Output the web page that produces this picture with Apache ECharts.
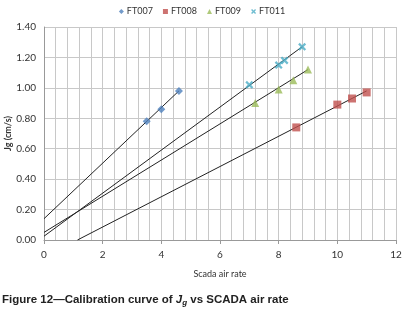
<!DOCTYPE html>
<html>
<head>
	<meta charset="utf-8"/>
	<script src="https://cdn.jsdelivr.net/npm/echarts@6/dist/echarts.min.js"></script>
	<style>
		html, body {
			margin: 0;
			padding: 0;
			background: #fff;
		}
		#chart {
			width: 404px;
			height: 311px;
		}
	</style>
	<title>Calibration curve</title>
</head>
<body>
	<div id="chart"></div>
	<script>
		// measured points (scada air rate, Jg)
		const ft007 = [[3.5, 0.78], [4.0, 0.86], [4.6, 0.98]];
		const ft008 = [[8.6, 0.74], [10.0, 0.89], [10.5, 0.93], [11.0, 0.97]];
		const ft009 = [[7.2, 0.90], [8.0, 0.99], [8.5, 1.05], [9.0, 1.12]];
		const ft011 = [[7.0, 1.02], [8.0, 1.15], [8.2, 1.18], [8.8, 1.27]];
		// trend lines, end points
		const trend007 = [[0, 0.14], [4.6, 0.98]];
		const trend008 = [[1.14, 0], [11.0, 0.98]];
		const trend009 = [[0, 0.05], [9.0, 1.12]];
		const trend011 = [[0, 0.025], [8.8, 1.27]];
		const seriesNames = ['FT007', 'FT008', 'FT009', 'FT011'];
		const colors = ['#4f81bd', '#c0504d', '#9bbb59', '#4bacc6'];

		const xMark = 'path://M2,0L5,3L8,0L10,2L7,5L10,8L8,10L5,7L2,10L0,8L3,5L0,2Z';
		const symbols = ['diamond', 'rect', 'triangle', xMark];
		const points = [ft007, ft008, ft009, ft011];
		const trends = [trend007, trend008, trend009, trend011];

		const chartFont = 'Lato, "Open Sans", sans-serif';
		const captionFont = '"Liberation Sans", Arial, sans-serif';
		const chart = echarts.init(document.getElementById('chart'));

		let series = [];
		trends.forEach(function (t) {
			series.push({
				type: 'line',
				data: t,
				symbol: 'none',
				silent: true,
				lineStyle: {color: '#222', width: 1},
				z: 2
			});
		});
		points.forEach(function (p, i) {
			series.push({
				name: seriesNames[i],
				type: 'scatter',
				data: p,
				symbol: symbols[i],
				symbolSize: 8,
				itemStyle: {color: colors[i]},
				z: 3
			});
		});

		chart.setOption({
			animation: false,
			color: colors,
			textStyle: {fontFamily: chartFont},
			legend: {
				data: seriesNames.map(function (n, i) {
					return {name: n, icon: symbols[i]};
				}),
				top: 2,
				left: 'center',
				itemWidth: 5,
				itemHeight: 5,
				itemGap: 10,
				textStyle: {fontSize: 9, color: '#333', fontFamily: chartFont, padding: [0, 0, 0, -2]}
			},
			grid: {left: 44, right: 8, top: 27, bottom: 71, outerBoundsMode: 'none'},
			xAxis: {
				type: 'value',
				min: 0,
				max: 12,
				interval: 2,
				name: 'Scada air rate',
				nameLocation: 'middle',
				nameGap: 30,
				nameMoveOverlap: false,
				nameTextStyle: {fontSize: 9, color: '#333'},
				axisLine: {lineStyle: {color: '#999'}},
				axisTick: {show: true, length: 4, lineStyle: {color: '#999'}},
				axisLabel: {fontSize: 10, color: '#333', margin: 10},
				splitLine: {show: true, lineStyle: {color: '#c8c8c8'}},
				minorTick: {show: false, splitNumber: 5},
				minorSplitLine: {show: true, lineStyle: {color: '#c8c8c8'}}
			},
			yAxis: {
				type: 'value',
				min: 0,
				max: 1.4,
				interval: 0.2,
				name: 'Jg (cm/s)',
				nameLocation: 'middle',
				nameGap: 31,
				nameMoveOverlap: false,
				nameTextStyle: {fontSize: 9, color: '#333', fontWeight: 'bold'},
				axisLine: {show: true, lineStyle: {color: '#999'}},
				axisTick: {show: false},
				axisLabel: {
					fontSize: 10,
					color: '#333',
					margin: 8,
					formatter: function (v) { return v.toFixed(2); }
				},
				splitLine: {show: true, lineStyle: {color: '#c8c8c8'}}
			},
			graphic: [{
				type: 'text',
				left: 2,
				top: 294,
				style: {
					text: '{n|Figure 12—Calibration curve of }{i|J}{s|g}{n| vs SCADA air rate}',
					rich: {
						n: {fontFamily: captionFont, fontWeight: 'bold', fontSize: 11.5, fill: '#222'},
						i: {fontFamily: captionFont, fontWeight: 'bold', fontStyle: 'italic', fontSize: 11.5, fill: '#222'},
						s: {fontFamily: captionFont, fontWeight: 'bold', fontStyle: 'italic', fontSize: 8, fill: '#222', padding: [5, 0, 0, 0]}
					}
				}
			}],
			series: series
		});
	</script>
</body>
</html>
